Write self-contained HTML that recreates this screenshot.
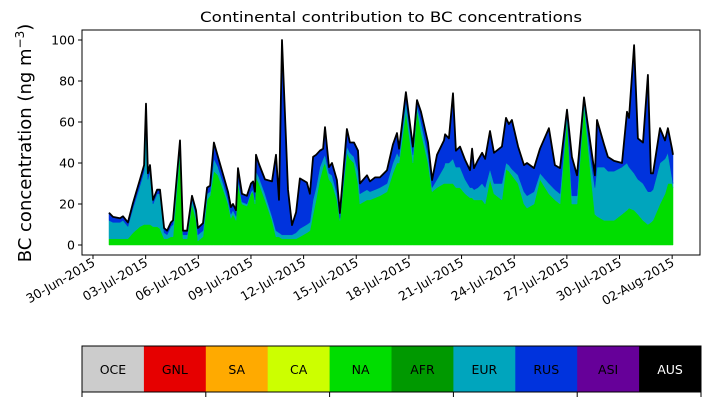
<!DOCTYPE html>
<html><head><meta charset="utf-8">
<style>
body{margin:0;background:#fff;width:710px;height:402px;overflow:hidden;font-family:"DejaVu Sans","Liberation Sans",sans-serif;}
svg text{font-family:"DejaVu Sans","Liberation Sans",sans-serif;}
</style></head>
<body>
<svg id="chart" width="710" height="402">
<text x="391" y="22" text-anchor="middle" font-size="14.5" textLength="382" lengthAdjust="spacingAndGlyphs">Continental contribution to BC concentrations</text>
<text transform="translate(31,143) rotate(-90)" text-anchor="middle" font-size="18">BC concentration (ng m<tspan dy="-7" font-size="12">−3</tspan><tspan dy="7">)</tspan></text>
<g id="plot"></g>
<g id="cbar"></g>
</svg>
<script>
// days since 30-Jun-2015
const days=[0.91,1.14,1.54,1.71,1.99,2.28,2.68,2.91,3.02,3.13,3.25,3.42,3.65,3.82,4.05,4.22,4.44,4.56,4.96,5.13,5.36,5.64,5.87,5.98,6.27,6.50,6.67,6.89,7.12,7.46,7.69,7.86,7.98,8.15,8.26,8.49,8.77,9.00,9.12,9.23,9.29,9.46,9.80,10.20,10.43,10.60,10.77,11.11,11.34,11.57,11.79,12.19,12.36,12.54,12.71,12.93,13.11,13.22,13.45,13.62,13.90,14.07,14.47,14.64,14.87,15.10,15.21,15.61,15.78,16.07,16.35,16.75,17.09,17.32,17.44,17.83,18.23,18.46,18.69,19.09,19.32,19.60,20.00,20.06,20.28,20.51,20.68,20.91,21.20,21.48,21.60,21.71,21.94,22.17,22.34,22.62,22.85,23.30,23.53,23.70,23.87,24.22,24.56,24.73,25.13,25.47,25.98,26.32,26.61,27.01,27.29,27.58,27.98,28.32,28.60,28.72,29.12,29.34,29.69,30.14,30.43,30.54,30.83,31.05,31.34,31.62,31.79,31.91,32.31,32.59,32.76,32.99,33.05];
const totalVals=[15.7,13.7,13,14,11,20.5,32,39,69,35,39,22,27,27,8.3,7,11,12,51,7,7,24,17,8.3,10.7,28,29,50,43,33,26,18.5,20,17,37.5,25,24,30,31,26,44,39.5,32,31,44,22,100,27,9.7,16,32.5,30.5,25,43,44,46,47,57.5,38,40,31.7,15.6,56.6,50,50,46,30,34,31,33,33,36.5,49,54.6,47,74.6,48,70.7,65,50,31.7,44,51,54,52,74,46,48,41.5,36.5,47,37.5,41.5,45,42,55.6,45,48,62,59,61,48,39,40,37.5,47,57,39,37.5,66,43,34,72,51,34,61,49,43,41,40,65,62,97.5,52,50,83,35,35,57,51,57,47,44];
const naVals=[3,3,3,3,3,6,9,10,10,10,10,9,9,8,3,3,4,4,45,3,3,20,12,2,4,22,24,36,34,26,20,13,15,12,30,20,19,25,26,20,33,30,22,12,4,4,3,3,3,3,4,6,7,15,22,32,38,40,32,30,22,12,45,42,40,30,20,22,22,23,24,26,35,40,40,65,40,66,55,40,26,28,30,30,30,30,28,28,25,23,23,22,22,22,20,32,25,22,37,36,34,30,20,18,20,32,25,22,20,62,20,20,68,38,15,14,12,12,12,15,17,18,17,15,12,10,11,12,20,25,30,30,28];
const eurTopVals=[12,11,11,12,9,18,29,36,60,32,36,20,25,25,6,5,9,10,49,5,5,22,15,5,7,25,26,42,38,29,22,15,17,14,32,21,20,26,27,22,36,33,25,14,7,6,5,5,5,6,8,10,11,22,28,38,42,44,35,34,25,13,48,45,43,36,25,27,26,27,28,30,40,45,43,70,44,68,60,44,28,32,38,40,40,42,38,38,32,28,28,27,28,30,28,37,30,30,40,39,37,34,26,24,26,35,30,27,25,64,24,24,70,44,28,38,38,36,36,38,40,38,35,32,30,26,26,27,40,42,45,33,30];
const tickDays=[0,3,6,9,12,15,18,21,24,27,30,33];
const tickLabels=["30-Jun-2015","03-Jul-2015","06-Jul-2015","09-Jul-2015","12-Jul-2015","15-Jul-2015","18-Jul-2015","21-Jul-2015","24-Jul-2015","27-Jul-2015","30-Jul-2015","02-Aug-2015"];
const yTicks=[0,20,40,60,80,100];
const regions=["OCE","GNL","SA","CA","NA","AFR","EUR","RUS","ASI","AUS"];
const regionColors=["#cccccc","#e60000","#ffaa00","#ccff00","#00dd00","#009900","#00a5bd","#0033dd","#660099","#000000"];

const NS="http://www.w3.org/2000/svg";
const L=82,R=700,T=30,B=255;
const xs=d=>93+d*17.55;
const ys=v=>245-v*2.05;
const plot=document.getElementById('plot');
function mk(tag,attrs,parent){const e=document.createElementNS(NS,tag);for(const k in attrs)e.setAttribute(k,attrs[k]);(parent||plot).appendChild(e);return e;}

function area(lo,hi,color,name){
  let d='M'+days.map((t,i)=>xs(t).toFixed(1)+','+ys(hi[i]).toFixed(1)).join('L');
  for(let i=days.length-1;i>=0;i--)d+='L'+xs(days[i]).toFixed(1)+','+ys(lo[i]).toFixed(1);
  const p=mk('path',{d:d+'Z',fill:color,stroke:color,'stroke-width':0.5});
  
  
}
const zeros=days.map(()=>0);
area(zeros,naVals,'#00dd00','area-na');
area(naVals,eurTopVals,'#00a5bd','area-eur');
area(eurTopVals,totalVals,'#0033dd','area-rus');
const line=mk('path',{d:'M'+days.map((t,i)=>xs(t).toFixed(1)+','+ys(totalVals[i]).toFixed(1)).join('L'),fill:'none',stroke:'#000','stroke-width':1.8,'stroke-linejoin':'round'});



const frame=mk('rect',{x:L,y:T,width:R-L,height:B-T,fill:'none',stroke:'#000','stroke-width':1});



yTicks.forEach(v=>{
  mk('line',{x1:L-4,x2:L,y1:ys(v),y2:ys(v),stroke:'#000'});
  const t=mk('text',{x:L-7,y:ys(v)+4.5,'text-anchor':'end','font-size':12.5});
  t.textContent=v;
  
  
});
tickDays.forEach((d,i)=>{
  const x=xs(d);
  mk('line',{x1:x,x2:x,y1:B,y2:B+4,stroke:'#000'});
  const t=mk('text',{transform:`translate(${x+3},${B+10}) rotate(-30)`,'text-anchor':'end','font-size':12.5});
  t.textContent=tickLabels[i];
  
  
});

// colorbar
const cb=document.getElementById('cbar');
const cx0=82,cx1=701,cy0=346,cy1=392,w=(cx1-cx0)/regions.length;
regions.forEach((r,i)=>{
  const g=mk('g',{},cb);
  
  
  mk('rect',{x:cx0+i*w,y:cy0,width:w+0.5,height:cy1-cy0,fill:regionColors[i]},g);
  const t=mk('text',{x:cx0+(i+0.5)*w,y:cy0+28,'text-anchor':'middle','font-size':12.5,fill:i===9?'#fff':'#000'},g);
  t.textContent=r;
});
const cf=mk('rect',{x:cx0,y:cy0,width:cx1-cx0,height:cy1-cy0,fill:'none',stroke:'#000','stroke-width':1},cb);


for(let i=0;i<=regions.length;i+=2){mk('line',{x1:cx0+i*w,x2:cx0+i*w,y1:cy1,y2:cy1+5,stroke:'#000'},cb);}
</script>
</body></html>
